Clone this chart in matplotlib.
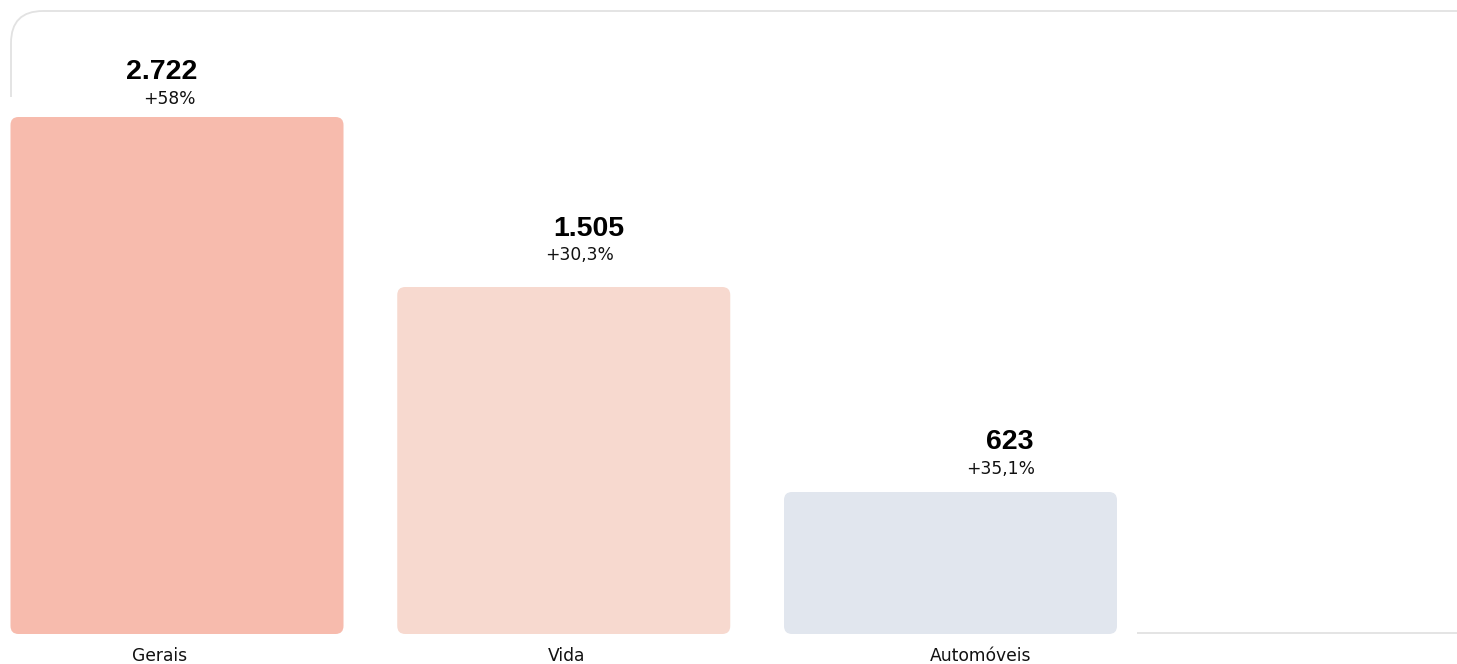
import matplotlib
matplotlib.use('Agg')
from matplotlib import pyplot as plt
from matplotlib.patches import FancyBboxPatch, Rectangle

# data
categories = ['Gerais', 'Vida', 'Automóveis']
value_labels = ['2.722', '1.505', '623']
change_labels = ['+58%', '+30,3%', '+35,1%']
bar_level = [517, 347, 142]          # drawn bar height (pixel-like units)
colors = ['#f7bbad', '#f7d9cf', '#e1e6ee']

# label placement (offsets relative to bar centre / top)
value_dx = [-0.04, 0.065, 0.153]
value_dy = [45, 58, 50]
change_dx = [-0.02, 0.04, 0.13]
change_dy = [18, 32, 23]
cat_dx = [-0.045, 0.008, 0.077]

W, H = 1457, 664
fig = plt.figure(figsize=(W / 100, H / 100), dpi=100)

# frame layer in pixel coordinates
frame = fig.add_axes([0, 0, 1, 1])
frame.set_xlim(0, W)
frame.set_ylim(H, 0)
frame.axis('off')
frame.add_patch(FancyBboxPatch((11, 11), 1480, 622,
                               boxstyle='round,pad=0,rounding_size=32',
                               fc='none', ec='#e2e2e2', lw=1.3))
frame.add_patch(Rectangle((0, 97), 1137, 600, fc='white', ec='none'))

# bar layer
ax = fig.add_axes([0, 0, 1, 1])
ax.patch.set_alpha(0)
step = 386.75
ax.set_xlim(-177 / step, (W - 177) / step)
ax.set_ylim(-30, 634)
ax.axis('off')

x = list(range(len(categories)))
bars = ax.bar(x, bar_level, width=333 / step, color=colors)
for b, c in zip(bars, colors):
    bx, by, bw, bh = b.get_x(), b.get_y(), b.get_width(), b.get_height()
    b.remove()
    ax.add_patch(FancyBboxPatch((bx, by), bw, bh,
                                boxstyle='round,pad=0,rounding_size=%f' % (8 / step),
                                mutation_aspect=step, fc=c, ec='none'))

for i in x:
    ax.text(i + value_dx[i], bar_level[i] + value_dy[i], value_labels[i],
            ha='center', va='center', fontsize=20.5, fontweight='bold',
            family='Liberation Sans', color='black')
    ax.text(i + change_dx[i], bar_level[i] + change_dy[i], change_labels[i],
            ha='center', va='center', fontsize=12.3, family='DejaVu Sans',
            color='#111111')
    ax.text(i + cat_dx[i], -22, categories[i], ha='center', va='center',
            fontsize=12.3, family='DejaVu Sans', color='#111111')

fig.savefig('out.png', dpi=100, facecolor='white')
